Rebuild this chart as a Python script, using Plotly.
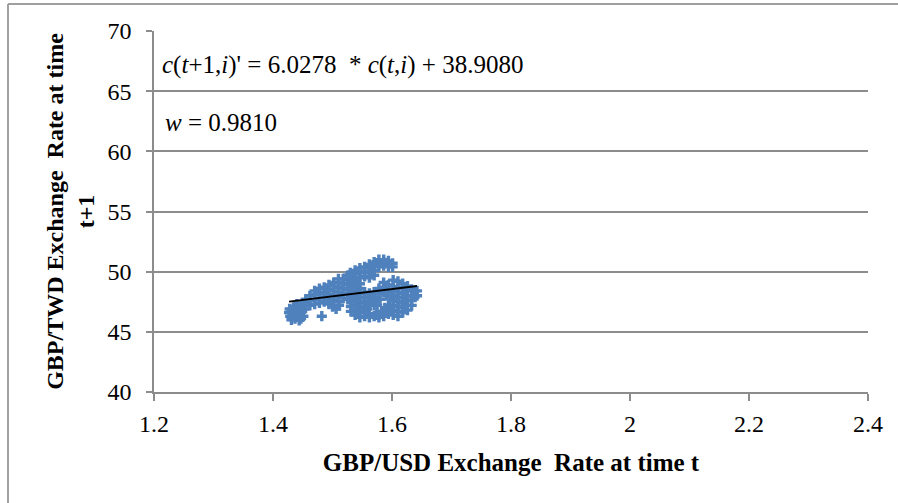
import plotly.graph_objects as go

# ---- data ----
usd_t = [
    # lower-left blob
    1.427, 1.429, 1.432, 1.434, 1.437, 1.438, 1.441, 1.443, 1.445, 1.447, 1.449, 1.451,
    1.431, 1.436, 1.440, 1.446, 1.450, 1.428, 1.444, 1.453,
    # band
    1.455, 1.455, 1.462, 1.462, 1.462, 1.470, 1.470, 1.470, 1.470,
    1.478, 1.478, 1.478, 1.478, 1.486, 1.486, 1.486, 1.486,
    1.494, 1.494, 1.494, 1.494, 1.494, 1.502, 1.502, 1.502, 1.502, 1.502,
    1.510, 1.510, 1.510, 1.510, 1.510, 1.510, 1.518, 1.518, 1.518, 1.518, 1.518,
    1.526, 1.526, 1.526, 1.526, 1.526, 1.526,
    1.500, 1.506, 1.511,
    # isolated
    1.482,
    # top cluster
    1.530, 1.530, 1.538, 1.538, 1.538, 1.546, 1.546, 1.546, 1.554, 1.554, 1.554,
    1.562, 1.562, 1.562, 1.562, 1.570, 1.570, 1.570, 1.570,
    1.578, 1.578, 1.578, 1.586, 1.586, 1.586, 1.594, 1.594, 1.594, 1.601, 1.601,
    # middle body
    1.531, 1.531, 1.531, 1.531, 1.531, 1.531, 1.531,
    1.538, 1.538, 1.538, 1.538, 1.538, 1.538, 1.538, 1.538,
    1.546, 1.546, 1.546, 1.546, 1.546, 1.546, 1.546, 1.546,
    1.554, 1.554, 1.554, 1.554, 1.554, 1.554,
    1.562, 1.562, 1.562, 1.562, 1.562,
    1.570, 1.570, 1.570, 1.570,
    1.578, 1.578, 1.578, 1.578,
    1.586, 1.586, 1.586, 1.586, 1.586,
    1.594, 1.594, 1.594, 1.594, 1.594,
    1.574, 1.582, 1.590, 1.588, 1.596, 1.570, 1.558, 1.561, 1.575, 1.591,
    1.566, 1.580, 1.598,
    # right part
    1.602, 1.602, 1.602, 1.602, 1.602, 1.602, 1.602, 1.602,
    1.610, 1.610, 1.610, 1.610, 1.610, 1.610, 1.610, 1.610,
    1.618, 1.618, 1.618, 1.618, 1.618, 1.618, 1.618,
    1.626, 1.626, 1.626, 1.626, 1.626, 1.626,
    1.633, 1.633, 1.633, 1.633, 1.638, 1.638, 1.642, 1.642,
]
twd_t1 = [
    # lower-left blob
    46.6, 46.3, 46.8, 46.4, 46.1, 46.7, 46.3, 46.9, 46.5, 46.1, 46.7, 46.3,
    46.0, 47.1, 47.3, 47.2, 47.4, 46.9, 45.95, 46.9,
    # band
    47.3, 47.7, 47.2, 47.6, 48.0, 47.3, 47.7, 48.1, 48.4,
    47.4, 47.8, 48.2, 48.6, 47.5, 47.9, 48.3, 48.7,
    47.3, 47.7, 48.1, 48.5, 48.9, 47.6, 48.0, 48.4, 48.8, 49.1,
    47.5, 47.9, 48.3, 48.7, 49.1, 49.4, 47.8, 48.2, 48.6, 49.0, 49.4,
    47.7, 48.1, 48.5, 48.9, 49.3, 49.7,
    47.1, 46.9, 47.2,
    # isolated
    46.3,
    # top cluster
    49.6, 49.9, 49.4, 49.8, 50.1, 49.5, 49.9, 50.3, 49.6, 50.0, 50.4,
    49.5, 49.9, 50.3, 50.6, 49.7, 50.1, 50.5, 50.8,
    50.4, 50.7, 51.0, 50.5, 50.8, 51.0, 50.4, 50.7, 50.9, 50.4, 50.7,
    # middle body
    46.7, 47.1, 47.5, 47.9, 48.3, 48.7, 49.1,
    46.4, 46.8, 47.2, 47.6, 48.0, 48.4, 48.8, 49.2,
    46.2, 46.6, 47.0, 47.4, 47.8, 48.2, 48.6, 49.0,
    46.3, 46.7, 47.1, 47.5, 47.9, 48.3,
    46.2, 46.5, 47.4, 47.8, 48.2,
    46.3, 47.6, 47.9, 48.3,
    46.4, 46.2, 48.2, 48.6,
    46.6, 46.3, 48.3, 48.7, 49.1,
    46.5, 46.8, 47.2, 48.4, 48.9,
    46.4, 46.5, 46.6, 47.0, 47.1, 47.2, 46.9, 47.3, 47.2, 48.0,
    47.9, 47.7, 47.9,
    # right part
    46.4, 46.8, 47.2, 47.6, 48.0, 48.4, 48.8, 49.3,
    46.3, 46.7, 47.1, 47.5, 47.9, 48.3, 48.7, 49.2,
    46.6, 47.0, 47.4, 47.8, 48.2, 48.6, 49.0,
    46.8, 47.2, 47.6, 48.0, 48.4, 48.8,
    47.2, 47.6, 48.0, 48.5, 47.9, 48.4, 48.0, 48.4,
]
slope = 6.0278
intercept = 38.9080
w_value = 0.9810
x_ticks = [1.2, 1.4, 1.6, 1.8, 2.0, 2.2, 2.4]
x_tick_labels = ["1.2", "1.4", "1.6", "1.8", "2", "2.2", "2.4"]
y_ticks = [40, 45, 50, 55, 60, 65, 70]

x_min, x_max = min(usd_t), max(usd_t)
fit_x = [x_min, x_max]
fit_y = [slope * v + intercept for v in fit_x]

FONT = "Liberation Serif, Times New Roman, serif"
BLUE = "#4F81BD"
GRID = "#8C8C8C"

fig = go.Figure()
fig.add_trace(go.Scatter(
    x=usd_t, y=twd_t1, mode="markers",
    marker=dict(symbol="cross", size=8.5, color=BLUE, line=dict(width=0)),
    showlegend=False, hoverinfo="skip"))
fig.add_trace(go.Scatter(
    x=fit_x, y=fit_y, mode="lines",
    line=dict(color="black", width=2), showlegend=False, hoverinfo="skip"))

W, H = 898, 503
L, R, T, B = 154, 30, 31, 111
pw, ph = W - L - R, H - T - B

fig.update_layout(
    width=W, height=H,
    margin=dict(l=L, r=R, t=T, b=B, pad=0),
    paper_bgcolor="white", plot_bgcolor="white",
    font=dict(family=FONT, size=24, color="black"),
    xaxis=dict(range=[1.2, 2.4], tickvals=x_ticks, ticktext=x_tick_labels,
               showgrid=False, zeroline=False, showline=True, linecolor=GRID,
               linewidth=2, ticks="outside", ticklen=7, tickwidth=1.5,
               tickcolor=GRID, tickfont=dict(size=24, family=FONT),
               ticklabelstandoff=2,
               title=dict(text="<b>GBP/USD Exchange&nbsp; Rate at time t</b>",
                          font=dict(size=25, family=FONT), standoff=18)),
    yaxis=dict(range=[40, 70], tickvals=y_ticks, showgrid=True,
               gridcolor=GRID, gridwidth=1.5, zeroline=False,
               showline=True, linecolor=GRID, linewidth=1.5,
               ticks="outside", ticklen=6, tickwidth=1.5, tickcolor=GRID,
               tickfont=dict(size=24, family=FONT), ticklabelstandoff=10,
               title=dict(text="<b>GBP/TWD Exchange&nbsp; Rate at time<br>t+1</b>",
                          font=dict(size=24, family=FONT), standoff=6)),
)

fig.add_annotation(
    xref="paper", yref="paper", x=(160 - L) / pw, y=1 - (65 - T) / ph,
    xanchor="left", yanchor="middle", showarrow=False,
    text=f"<i>c</i>(<i>t</i>+1,<i>i</i>)' = {slope:.4f}&nbsp; * <i>c</i>(<i>t</i>,<i>i</i>) + {intercept:.4f}",
    font=dict(size=25, family=FONT))
fig.add_annotation(
    xref="paper", yref="paper", x=(163 - L) / pw, y=1 - (122 - T) / ph,
    xanchor="left", yanchor="middle", showarrow=False,
    text=f"<i>w</i> = {w_value:.4f}",
    font=dict(size=25, family=FONT))

# chart area border (top and left visible)
bx0 = (8 - L) / pw
by_top = 1 + (T - 4) / ph
fig.add_shape(type="line", xref="paper", yref="paper",
              x0=bx0, x1=(W - L) / pw, y0=by_top, y1=by_top,
              line=dict(color="#A0A0A0", width=2))
fig.add_shape(type="line", xref="paper", yref="paper",
              x0=bx0, x1=bx0, y0=by_top, y1=-(B) / ph,
              line=dict(color="#A0A0A0", width=2))

fig.write_html("out.html", config={"displayModeBar": False},
               post_script="document.body.style.margin='0';document.body.style.overflow='hidden';")
